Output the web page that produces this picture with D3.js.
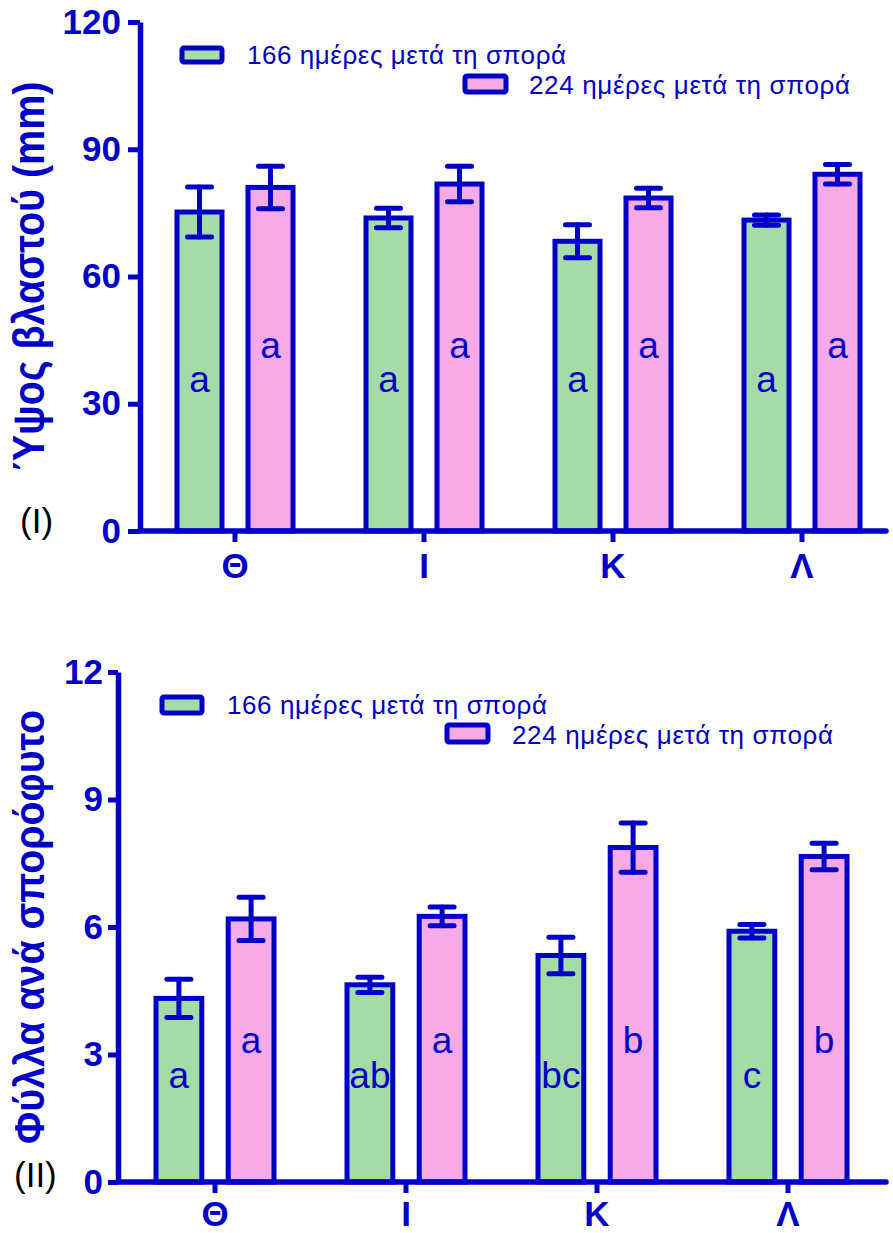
<!DOCTYPE html>
<html>
<head>
<meta charset="utf-8">
<script src="https://cdn.jsdelivr.net/npm/d3@7"></script>
<style>
  body { margin: 0; background: #fff; }
  svg { display: block; }
</style>
</head>
<body>
<script>
// categories and legend names
var groups = ["Θ", "Ι", "Κ", "Λ"];
var seriesNames = ["166 ημέρες μετά τη σπορά", "224 ημέρες μετά τη σπορά"];

// (I) shoot height, mm
var heightTicks = [0, 30, 60, 90, 120];
var height166 = [75.2, 73.8, 68.3, 73.3];
var height166Err = [5.9, 2.3, 3.9, 1.2];
var height224 = [81.0, 81.8, 78.5, 84.1];
var height224Err = [5.0, 4.2, 2.3, 2.3];
var height166Letters = ["a", "a", "a", "a"];
var height224Letters = ["a", "a", "a", "a"];

// (II) leaves per seedling
var leafTicks = [0, 3, 6, 9, 12];
var leaves166 = [4.32, 4.64, 5.33, 5.90];
var leaves166Err = [0.45, 0.18, 0.43, 0.16];
var leaves224 = [6.19, 6.25, 7.87, 7.66];
var leaves224Err = [0.51, 0.22, 0.58, 0.31];
var leaves166Letters = ["a", "ab", "bc", "c"];
var leaves224Letters = ["a", "a", "b", "b"];

var blue = "#0000c8";
var fills = ["#a3dca7", "#f6aae8"];
var font = "'Liberation Sans', Arial, sans-serif";

var svg = d3.select("body").append("svg")
    .attr("width", 893)
    .attr("height", 1233);

function drawPanel(p) {
  var y = d3.scaleLinear().domain([0, d3.max(p.ticks)]).range([p.yBottom, p.yTop]);
  var x = d3.scaleBand().domain(groups).range([p.x0, p.x0 + p.step * groups.length]);
  var xs = d3.scaleBand().domain([0, 1]).range([-p.half, p.half]).paddingInner(0.366);

  var rows = [];
  groups.forEach(function(g, i) {
    rows.push({g: g, s: 0, v: p.v1[i], e: p.e1[i], t: p.l1[i]});
    rows.push({g: g, s: 1, v: p.v2[i], e: p.e2[i], t: p.l2[i]});
  });
  var cx = function(d) { return x(d.g) + x.bandwidth() / 2 + xs(d.s) + xs.bandwidth() / 2; };

  var g = svg.append("g");

  g.selectAll("rect.bar")
    .data(rows)
    .enter().append("rect")
      .attr("class", "bar")
      .attr("x", function(d) { return cx(d) - xs.bandwidth() / 2; })
      .attr("width", xs.bandwidth())
      .attr("y", function(d) { return y(d.v); })
      .attr("height", function(d) { return y(0) - y(d.v); })
      .attr("fill", function(d) { return fills[d.s]; })
      .attr("stroke", blue)
      .attr("stroke-width", 5);

  // error bars
  var eb = g.selectAll("g.err")
    .data(rows)
    .enter().append("g")
      .attr("class", "err")
      .attr("stroke", blue)
      .attr("stroke-width", 5)
      .attr("stroke-linecap", "round");
  eb.append("line")
    .attr("x1", cx).attr("x2", cx)
    .attr("y1", function(d) { return y(d.v - d.e); })
    .attr("y2", function(d) { return y(d.v + d.e); });
  eb.append("line")
    .attr("x1", function(d) { return cx(d) - 12; })
    .attr("x2", function(d) { return cx(d) + 12; })
    .attr("y1", function(d) { return y(d.v + d.e); })
    .attr("y2", function(d) { return y(d.v + d.e); });
  eb.append("line")
    .attr("x1", function(d) { return cx(d) - 12; })
    .attr("x2", function(d) { return cx(d) + 12; })
    .attr("y1", function(d) { return y(d.v - d.e); })
    .attr("y2", function(d) { return y(d.v - d.e); });

  // significance letters
  g.selectAll("text.letter")
    .data(rows)
    .enter().append("text")
      .attr("class", "letter")
      .attr("x", cx)
      .attr("y", function(d) { return y(p.letterAt[d.s]); })
      .attr("text-anchor", "middle")
      .attr("font-family", font)
      .attr("font-size", 37)
      .attr("fill", blue)
      .text(function(d) { return d.t; });

  // y axis
  var ya = g.append("g")
    .attr("transform", "translate(" + p.axisX + ",0)")
    .call(d3.axisLeft(y).tickValues(p.ticks).tickSize(p.tickLen).tickPadding(p.tickPad).tickSizeOuter(0));
  ya.select(".domain").attr("stroke", blue).attr("stroke-width", 5.5);
  ya.selectAll(".tick line").attr("stroke", blue).attr("stroke-width", 5);
  ya.selectAll(".tick text")
    .attr("fill", blue)
    .attr("font-family", font)
    .attr("font-weight", "bold")
    .attr("font-size", 35);

  // x axis
  var xa = g.append("g")
    .attr("transform", "translate(0," + y(0) + ")")
    .call(d3.axisBottom(x).tickSize(11).tickPadding(p.xPad));
  xa.select(".domain").remove();
  xa.selectAll(".tick line").attr("stroke", blue).attr("stroke-width", 5);
  xa.selectAll(".tick text")
    .attr("fill", blue)
    .attr("font-family", font)
    .attr("font-weight", "bold")
    .attr("font-size", 35);
  g.append("line")
    .attr("x1", p.axisX).attr("x2", 886)
    .attr("y1", y(0)).attr("y2", y(0))
    .attr("stroke", blue)
    .attr("stroke-width", 5.5)
    .attr("stroke-linecap", "round");

  // axis title
  var midY = (p.yTop + p.yBottom) / 2;
  g.append("text")
    .attr("transform", "translate(44," + midY + ") rotate(-90)")
    .attr("text-anchor", "middle")
    .attr("font-family", font)
    .attr("font-weight", "bold")
    .attr("font-size", p.titleSize)
    .attr("fill", blue)
    .attr("textLength", p.titleLen)
    .attr("lengthAdjust", "spacingAndGlyphs")
    .text(p.title);

  // panel tag
  g.append("text")
    .attr("x", p.tag[0]).attr("y", p.tag[1])
    .attr("font-family", font)
    .attr("font-size", 35)
    .attr("fill", "#000")
    .text(p.tagText);

  // legend
  p.legend.forEach(function(L, i) {
    g.append("rect")
      .attr("x", L.x).attr("y", L.y)
      .attr("width", L.w).attr("height", L.h)
      .attr("rx", 2)
      .attr("fill", fills[i])
      .attr("stroke", blue)
      .attr("stroke-width", 5);
    g.append("text")
      .attr("x", L.tx).attr("y", L.ty)
      .attr("font-family", font)
      .attr("font-size", 26)
      .attr("fill", blue)
      .attr("textLength", L.tl)
      .text(seriesNames[i]);
  });
}

drawPanel({
  ticks: heightTicks, yTop: 22, yBottom: 531,
  x0: 140.5, step: 189, half: 58, axisX: 140,
  tickLen: 12, tickPad: 7, xPad: 11,
  v1: height166, e1: height166Err, v2: height224, e2: height224Err,
  l1: height166Letters, l2: height224Letters,
  letterAt: [32.8, 40.8],
  title: "Ύψος βλαστού (mm)", titleSize: 45, titleLen: 390,
  tag: [20, 533], tagText: "(I)",
  legend: [
    {x: 182, y: 48, w: 40, h: 14, tx: 247, ty: 64, tl: 319},
    {x: 465, y: 76, w: 41, h: 16, tx: 529, ty: 94, tl: 321}
  ]
});

drawPanel({
  ticks: leafTicks, yTop: 672, yBottom: 1182,
  x0: 119.5, step: 191, half: 59, axisX: 118,
  tickLen: 10, tickPad: 5, xPad: 8,
  v1: leaves166, e1: leaves166Err, v2: leaves224, e2: leaves224Err,
  l1: leaves166Letters, l2: leaves224Letters,
  letterAt: [2.21, 3.04],
  title: "Φύλλα ανά σπορόφυτο", titleSize: 43, titleLen: 434,
  tag: [14, 1187], tagText: "(II)",
  legend: [
    {x: 162, y: 697, w: 40, h: 16, tx: 227, ty: 714, tl: 320},
    {x: 447, y: 725, w: 41, h: 17, tx: 512, ty: 744, tl: 321}
  ]
});
</script>
</body>
</html>
